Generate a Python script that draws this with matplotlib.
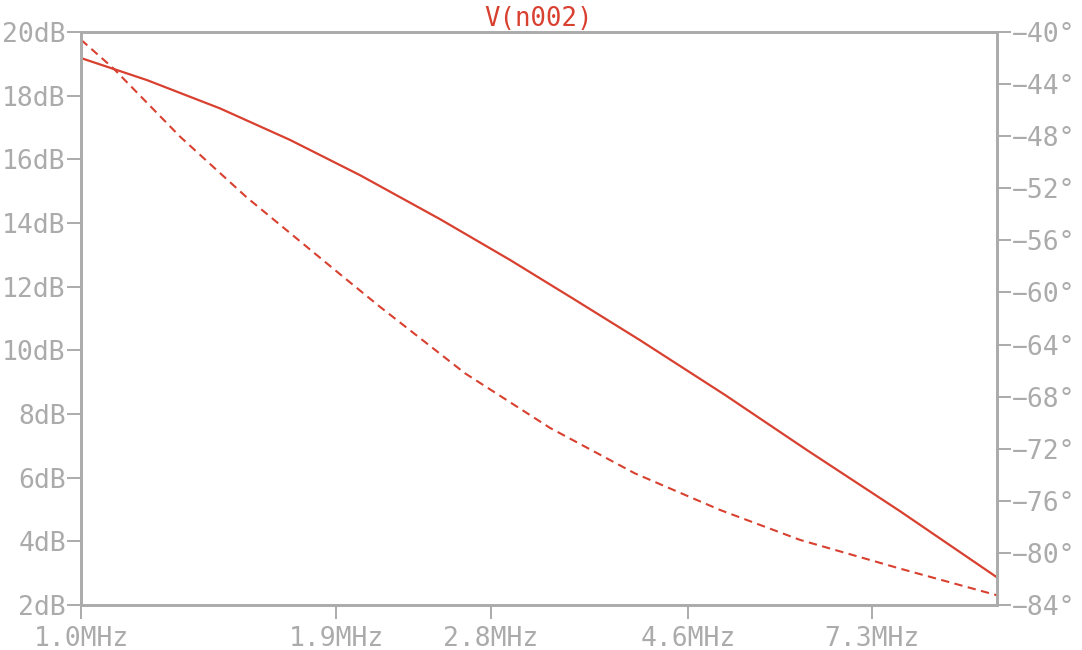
import matplotlib
matplotlib.use("Agg")
import matplotlib.pyplot as plt

# magnitude curve (solid)
freq_mag = [1.0, 1.18, 1.418, 1.691, 2.017, 2.466, 2.94, 3.447, 4.076, 5.047, 6.2, 7.835, 10.0]
mag_db = [19.18, 18.49, 17.60, 16.61, 15.50, 14.12, 12.84, 11.62, 10.32, 8.60, 6.87, 4.95, 2.87]

# phase curve (dashed)
freq_ph = [1.0, 1.0846, 1.2828, 1.5167, 1.933, 2.12, 2.626, 3.251, 4.024, 4.985, 6.095, 7.835, 10.0]
phase_deg = [-40.6, -42.79, -48.04, -52.7, -58.8, -61.1, -66.21, -70.4, -73.89, -76.7, -79.0, -81.2, -83.25]

xticks = [1.0, 1.9, 2.8, 4.6, 7.3]
xlabels = ["1.0MHz", "1.9MHz", "2.8MHz", "4.6MHz", "7.3MHz"]
db_ticks = list(range(2, 21, 2))
deg_ticks = list(range(-84, -39, 4))

gray = "#ababab"
red = "#d8402f"

plt.rcParams['font.family'] = ['DejaVu Sans Mono', 'DejaVu Sans']

fig = plt.figure(figsize=(10.82, 6.5), dpi=100)
ax = fig.add_axes([0.0749, 0.0692, 0.8465, 0.8816])
ax2 = ax.twinx()

ax.plot(freq_mag, mag_db, color=red, lw=1.6)
ax2.plot(freq_ph, phase_deg, color=red, lw=1.5, linestyle=(0, (4, 2.6)))

ax.set_xscale("log")
ax.set_xlim(1.0, 10.0)
ax.set_ylim(2, 20)
ax2.set_ylim(-84, -40)

ax.set_xticks(xticks)
ax.set_xticklabels(xlabels)
ax.xaxis.set_minor_locator(matplotlib.ticker.NullLocator())
ax.set_yticks(db_ticks)
ax.set_yticklabels([f"{v}dB" for v in db_ticks])
ax2.set_yticks(deg_ticks)
ax2.set_yticklabels([f"\u2212{abs(v)}\u00b0" for v in deg_ticks])

for a in (ax, ax2):
    for s in a.spines.values():
        s.set_color(gray)
        s.set_linewidth(1.9)
    a.tick_params(colors=gray, labelcolor=gray, labelsize=19, length=10,
                  width=1.4, pad=1)
ax.tick_params(axis="x", pad=5)

ax.set_title("V(n002)", color=red, fontsize=18.5, pad=2)

fig.savefig("out.png", dpi=100)
